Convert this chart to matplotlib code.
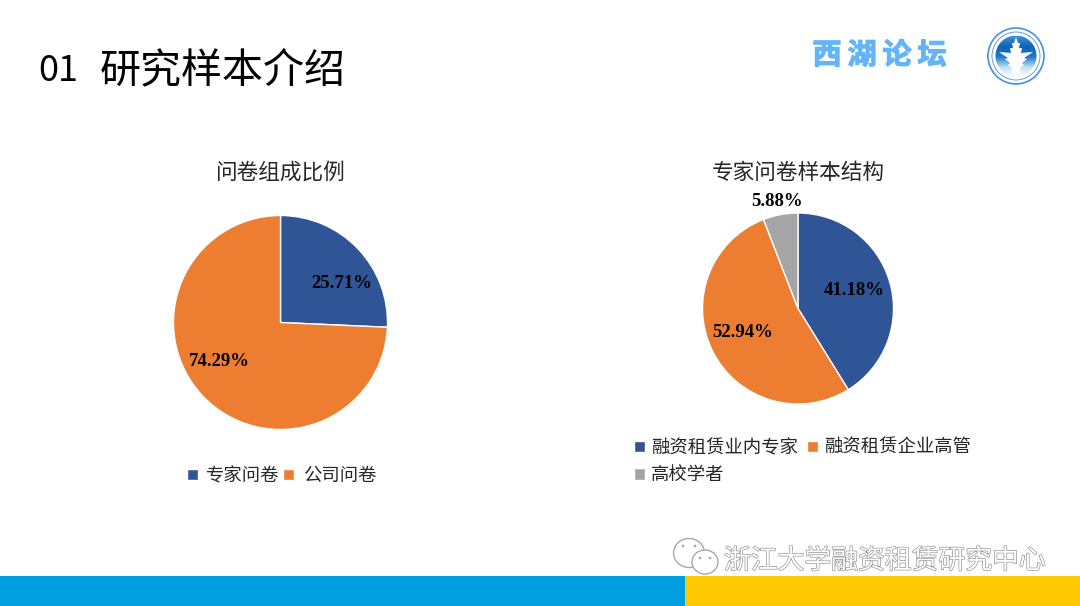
import numpy as np
import matplotlib
matplotlib.use('Agg')
import matplotlib.pyplot as plt
from matplotlib.patches import Circle, Ellipse, Polygon, Rectangle
import matplotlib.patheffects as pe

plt.rcParams['font.family'] = ['Noto Sans CJK SC', 'DejaVu Sans']

# chart data
left_title = '问卷组成比例'
left_labels = ['专家问卷', '公司问卷']
left_values = [25.71, 74.29]
right_title = '专家问卷样本结构'
right_labels = ['融资租赁业内专家', '融资租赁企业高管', '高校学者']
right_values = [41.18, 52.94, 5.88]

left_colors = ['#2F5597', '#ED7D31']
right_colors = ['#2F5597', '#ED7D31', '#A5A5A5']

W, H = 1080, 606
fig = plt.figure(figsize=(W / 100, H / 100), dpi=100, facecolor='white')

# whole slide in pixel coordinates, for the decoration
bg = fig.add_axes([0, 0, 1, 1])
bg.axis('off')

bg.text(38, 71, '01', fontsize=26, color='black', va='center', ha='left')
bg.text(100, 71, '研究样本介绍', fontsize=29.5, color='black', va='center', ha='left')

# bottom bars
bg.add_patch(Rectangle((0, 576), 685, 30, color='#009FDF', lw=0))
bg.add_patch(Rectangle((685, 576), 395, 30, color='#FFC901', lw=0))

# forum name
for x, ch in zip([827, 862, 897, 932], '西湖论坛'):
    bg.text(x, 55, ch, fontsize=21, color='#63B4FB', weight='bold', ha='center', va='center',
            path_effects=[pe.withStroke(linewidth=0.8, foreground='#63B4FB')])

# logo
bg.add_patch(Circle((1016, 56), 28, fc='white', ec='#4A90D9', lw=1.2))
bg.add_patch(Circle((1016, 56), 24, fc='white', ec='#4A90D9', lw=0.6))
grad = np.linspace(0, 1, 64).reshape(-1, 1)
cmap = matplotlib.colors.LinearSegmentedColormap.from_list(
    'logo', ['#3E8FD8', '#0E63B5', '#1E7CC8', '#BFE3F5', '#FFFFFF'])
im = bg.imshow(grad, extent=(994, 1038, 78, 36), cmap=cmap, aspect='auto', zorder=2)
im.set_clip_path(Circle((1016, 56), 20.5, transform=bg.transData))
bg.add_patch(Polygon([(1016, 37), (1018, 43), (1020, 43), (1019, 48), (1022, 48), (1021, 53),
                      (1033, 52), (1024, 58), (1027, 59), (1022, 63), (1024, 65), (1020, 68),
                      (1021, 74), (1011, 74), (1012, 68), (1008, 65), (1010, 63), (1005, 59),
                      (1008, 58), (999, 52), (1011, 53), (1010, 48), (1013, 48), (1012, 43),
                      (1014, 43)],
                     fc='white', ec='none', zorder=3))

# watermark
bg.add_patch(Ellipse((689, 553), 31, 29, fc='white', ec='#A8A8A8', lw=1, zorder=4))
bg.add_patch(Ellipse((705, 562), 26, 24, fc='white', ec='#A8A8A8', lw=1, zorder=5))
for ex, ey in [(683, 546), (695, 546), (700, 558), (710, 558)]:
    bg.add_patch(Circle((ex, ey), 1.3, fc='#A8A8A8', ec='none', zorder=6))
bg.text(724, 561, '浙江大学融资租赁研究中心', fontsize=19.3, color='white', ha='left', va='center',
        path_effects=[pe.withStroke(linewidth=0.9, foreground='#8C8C8C')])

# imshow resets the limits, so set them after it
bg.set_xlim(0, W)
bg.set_ylim(H, 0)


def px_axes(cx, cy, r):
    ax = fig.add_axes([(cx - r) / W, 1 - (cy + r) / H, 2 * r / W, 2 * r / H])
    return ax


def draw_pie(ax, values, colors, label_pos):
    wedges, _ = ax.pie(values, colors=colors, startangle=90, counterclock=False, radius=1,
                       wedgeprops=dict(edgecolor='white', linewidth=1), normalize=True)
    ax.set_xlim(-1, 1)
    ax.set_ylim(-1, 1)
    for v, (x, y) in zip(values, label_pos):
        ax.text(x, y, f'{v:.2f}%', family='Liberation Serif', weight='bold', fontsize=13.5,
                color='black', ha='center', va='center')
    return wedges


ax1 = px_axes(280.5, 322.5, 107)
w1 = draw_pie(ax1, left_values, left_colors, [(0.57, 0.36), (-0.57, -0.36)])
ax2 = px_axes(798, 308.5, 95.5)
w2 = draw_pie(ax2, right_values, right_colors, [(0.586, 0.19), (-0.58, -0.25), (-0.225, 1.125)])

bg.text(281, 173, left_title, fontsize=15.6, color='#262626', ha='center', va='center')
bg.text(798, 173, right_title, fontsize=15.6, color='#262626', ha='center', va='center')

legend_kw = dict(prop={'size': 13.2}, frameon=False, borderpad=0, borderaxespad=0, ncol=2,
                 handlelength=0.6, handleheight=0.6, labelspacing=0.5, labelcolor='#262626',
                 loc='upper left', bbox_transform=bg.transData)
leg_left = bg.legend([w1[0], w1[1]], left_labels, bbox_to_anchor=(187, 467),
                     handletextpad=0.45, columnspacing=0.2, **legend_kw)
bg.add_artist(leg_left)
# filled column by column, so the third entry goes under the first
bg.legend([w2[0], w2[2], w2[1]], [right_labels[0], right_labels[2], right_labels[1]],
          bbox_to_anchor=(634, 439), handletextpad=0.35, columnspacing=0.45, **legend_kw)

fig.savefig('out.png', dpi=100)
